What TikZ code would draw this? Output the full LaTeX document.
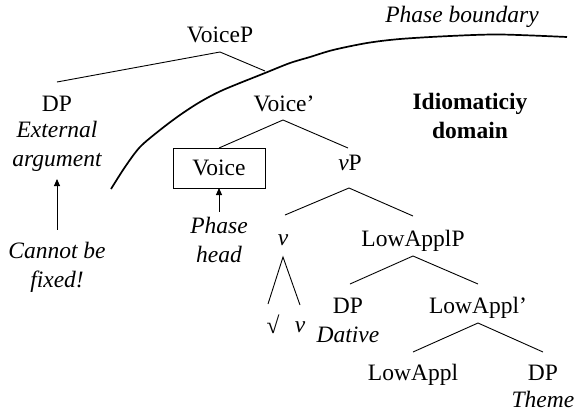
\documentclass[tikz,border=0pt]{standalone}
\usepackage{fontspec}
\setmainfont{Liberation Serif}
\usetikzlibrary{calc,arrows.meta}
\begin{document}
\begin{tikzpicture}[x=1pt,y=-1pt,
  every node/.style={inner sep=0pt,outer sep=0pt,font=\fontsize{23.5}{29}\selectfont},
  lab/.style={anchor=base},
  note/.style={anchor=base,align=center,font=\fontsize{23.5}{29}\selectfont\itshape},
  branch/.style={line width=0.9pt},
  ptr/.style={line width=0.9pt,-{Triangle[length=7pt,width=6pt]}},
  boundary/.style={line width=1.7pt}]
\useasboundingbox (0,0) rectangle (574,413);
% tree labels (at baselines)
\node[lab] (VoiceP) at (220,42) {VoiceP};
\node[lab] (DPa) at (57,111) {DP};
\node[lab] (Voicebar) at (284,111) {Voice’};
\node[draw,line width=0.9pt,minimum width=92pt,minimum height=40pt] (Voice) at (219,168) {Voice};
\node[lab] (vP) at (350,170) {\textit{v}P};
\node[lab] (v) at (283,245) {\textit{v}};
\node[lab] (root) at (273,333) {√};
\node[lab] (v2) at (300,332) {\textit{v}};
\node[lab] (LowApplP) at (413,246) {LowApplP};
\node[lab] (DPb) at (348,313) {DP};
\node[lab] (LowApplbar) at (478,313) {LowAppl’};
\node[lab] (LowAppl) at (413,380) {LowAppl};
\node[lab] (DPc) at (543,380) {DP};
% annotations (base anchor = baseline of last line)
\node[note] (pb) at (462,22) {Phase boundary};
\node[note] (ext) at (57,166) {External\\argument};
\node[note] (cnb) at (57,287) {Cannot be\\fixed!};
\node[note] (ph) at (219,262) {Phase\\head};
\node[note] (dat) at (348,342) {Dative};
\node[note] (thm) at (543,407) {Theme};
\node[anchor=base,align=center,font=\fontsize{23.5}{29}\selectfont\bfseries] (idiom) at (470,138) {Idiomaticiy\\domain};
% branches
\coordinate (vpend) at (265,71);
\draw[branch] ($(DPa.base)+(0,-29)$) -- ($(VoiceP.base)+(0,10)$) -- (vpend);
\draw[branch] (Voice.north) -- ($(Voicebar.base)+(-1,9)$) -- ($(vP.base)+(-2,-22)$);
\draw[branch] ($(v.base)+(2,-30)$) -- ($(vP.base)+(-1,18)$) -- ($(LowApplP.base)+(0,-30)$);
\draw[branch] ($(root.base)+(-5,-29)$) -- ($(v.base)+(0,12)$) -- ($(v2.base)+(0,-27)$);
\draw[branch] ($(DPb.base)+(2,-29)$) -- ($(LowApplP.base)+(0,10)$) -- ($(LowApplbar.base)+(0,-29)$);
\draw[branch] ($(LowAppl.base)+(0,-28)$) -- ($(LowApplbar.base)+(0,10)$) -- ($(DPc.base)+(0,-28)$);
% pointers
\draw[ptr] ($(cnb.north)+(0,-12)$) -- ($(ext.south)+(0,8)$);
\draw[ptr] ($(ph.north)+(0,-5)$) -- (Voice.south);
% phase boundary curve
\draw[boundary] plot[smooth] coordinates {(111,189) (125,167) (140,147) (160,130) (180,115) (200,102) (223,90) (265,73) (290,63) (310,57) (333,50) (367,43) (400,39) (450,36) (500,34.5) (567,37)};
\end{tikzpicture}
\end{document}
